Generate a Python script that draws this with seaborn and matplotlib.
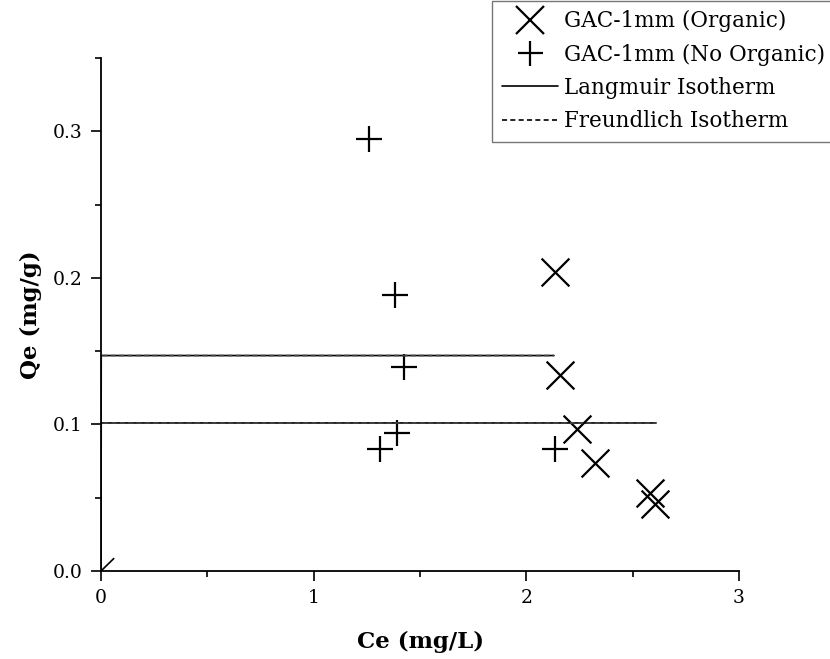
import matplotlib
matplotlib.use("Agg")
import matplotlib.pyplot as plt
import seaborn as sns
import pandas as pd
from matplotlib.lines import Line2D
from matplotlib.ticker import MultipleLocator

# Data
org_ce = [2.134, 2.158, 2.236, 2.322, 2.581, 2.605]
org_qe = [0.204, 0.134, 0.097, 0.074, 0.053, 0.046]
noorg_ce = [1.26, 1.382, 1.426, 1.392, 1.310, 2.134]
noorg_qe = [0.295, 0.1886, 0.139, 0.094, 0.083, 0.083]

lang_a_x = [0.0, 0.001, 2.13]
lang_a_y = [0.0, 0.147, 0.147]
lang_b_x = [0.0, 0.001, 2.61]
lang_b_y = [0.0, 0.101, 0.101]
freu_a_x = [0.0, 0.001, 2.13]
freu_a_y = [0.0, 0.147, 0.147]
freu_b_x = [0.0, 0.001, 2.61]
freu_b_y = [0.0, 0.101, 0.101]
diag_x = [0.0, 0.06]
diag_y = [0.0, 0.0085]

sns.set_style("ticks")
plt.rcParams["font.family"] = ["DejaVu Serif"]
plt.rcParams["mathtext.fontset"] = "dejavuserif"
plt.rcParams["text.color"] = "black"
plt.rcParams["axes.labelcolor"] = "black"

fig = plt.figure(figsize=(8.3, 6.59), dpi=100)
ax = fig.add_axes([101/830, 1 - 571/659, (739-101)/830, (571-58)/659])

for xs, ys in [(lang_a_x, lang_a_y), (lang_b_x, lang_b_y), (diag_x, diag_y)]:
    sns.lineplot(x=xs, y=ys, sort=False, estimator=None, ax=ax, color="black", linewidth=1.2)
for xs, ys in [(freu_a_x, freu_a_y), (freu_b_x, freu_b_y)]:
    sns.lineplot(x=xs, y=ys, sort=False, estimator=None, ax=ax, color="#444444",
                 linewidth=1.2, linestyle=(0, (3, 2)))

sns.scatterplot(x=org_ce, y=org_qe, marker="x", s=400, color="black", linewidth=1.6, ax=ax)
sns.scatterplot(x=noorg_ce, y=noorg_qe, marker="+", s=340, color="black", linewidth=1.6, ax=ax)

ax.set_xlim(0, 3)
ax.set_ylim(0, 0.35)
ax.xaxis.set_minor_locator(MultipleLocator(0.5))
ax.yaxis.set_minor_locator(MultipleLocator(0.05))
ax.set_xticks([0, 1, 2, 3])
ax.set_xticklabels(["0", "1", "2", "3"])
ax.set_yticks([0.0, 0.1, 0.2, 0.3])
ax.set_yticklabels(["0.0", "0.1", "0.2", "0.3"])
ax.tick_params(axis="both", which="major", direction="out", length=7, width=1.2,
               labelsize=13.5, color="black", labelcolor="black", pad=6)
ax.tick_params(axis="both", which="minor", direction="out", length=4, width=1.2, color="black")
for side in ["top", "right"]:
    ax.spines[side].set_visible(False)
for side in ["left", "bottom"]:
    ax.spines[side].set_linewidth(1.3)
    ax.spines[side].set_color("black")

ax.set_xlabel("Ce (mg/L)", fontsize=16.5, fontweight="bold", labelpad=17)
ax.set_ylabel("Qe (mg/g)", fontsize=16.5, fontweight="bold", labelpad=8)

handles = [
    Line2D([], [], color="black", marker="x", markersize=20, markeredgewidth=1.6, linestyle="none"),
    Line2D([], [], color="black", marker="+", markersize=18, markeredgewidth=1.6, linestyle="none"),
    Line2D([], [], color="black", linewidth=1.2),
    Line2D([], [], color="black", linewidth=1.2, linestyle=(0, (3, 2))),
]
labels = ["GAC-1mm (Organic)", "GAC-1mm (No Organic)", "Langmuir Isotherm", "Freundlich Isotherm"]
leg = fig.legend(handles, labels, loc="upper left", bbox_to_anchor=(492/830, 0.999),
                 frameon=True, fancybox=False, fontsize=15.5, handlelength=2.6,
                 handletextpad=0.3, labelspacing=0.52, borderpad=0.45, borderaxespad=0.0)
leg.get_frame().set_edgecolor("#555555")
leg.get_frame().set_linewidth(1.0)

fig.savefig("out.png", dpi=100)
